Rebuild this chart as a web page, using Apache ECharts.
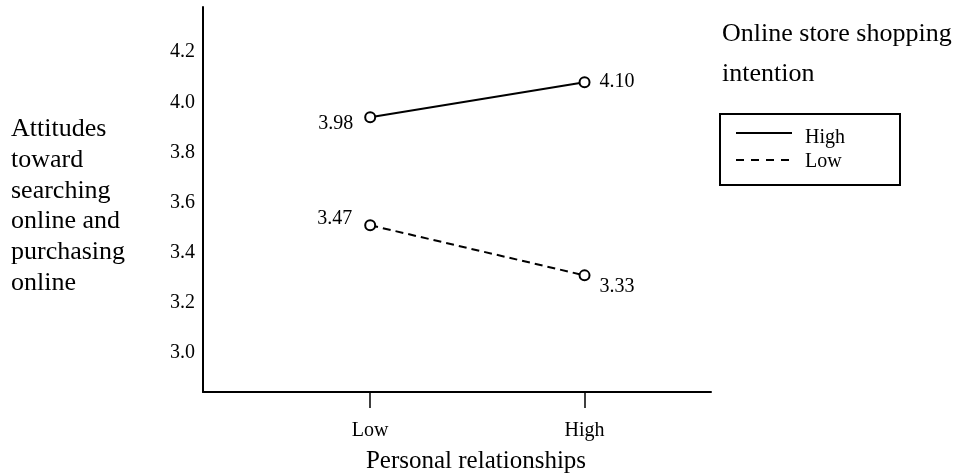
<!DOCTYPE html>
<html>
<head>
<meta charset="utf-8">
<title>Interaction plot</title>
<script src="https://cdn.jsdelivr.net/npm/echarts@6/dist/echarts.min.js"></script>
<style>
  html, body { margin: 0; padding: 0; background: #fff; }
  #chart { width: 961px; height: 475px; }
</style>
</head>
<body>
<div id="chart"></div>
<script>
// x 轴两个水平
const categories = ['Low', 'High'];
// 图例 / 系列名
const seriesNames = ['High', 'Low'];
// 绘制位置
const highValues = [3.94, 4.08];
const lowValues = [3.51, 3.31];
// 标注的数值
const highLabels = ['3.98', '4.10'];
const lowLabels = ['3.47', '3.33'];
// y 轴刻度
const yTicks = [3.0, 3.2, 3.4, 3.6, 3.8, 4.0, 4.2];

const FONT = "'Liberation Serif', 'Times New Roman', serif";

// 每个点的标签摆放
const highLabelPos = [
  { position: 'left', distance: 11, offset: [0, 6] },
  { position: 'right', distance: 9, offset: [0, 0] },
];
const lowLabelPos = [
  { position: 'left', distance: 12, offset: [0, -6] },
  { position: 'right', distance: 9, offset: [0, 11] },
];

function buildData(values, labels, pos) {
  return values.map((v, i) => ({
    value: [i + 1, v],
    label: {
      show: true,
      formatter: labels[i],
      position: pos[i].position,
      distance: pos[i].distance,
      offset: pos[i].offset,
      color: '#000',
      fontFamily: FONT,
      fontSize: 20,
    },
  }));
}

const chart = echarts.init(document.getElementById('chart'));

const options = {
  animation: false,
  backgroundColor: '#fff',
  grid: { left: 203, right: 250, top: 7, bottom: 83, containLabel: false },
  xAxis: {
    type: 'value',
    min: 0.22,
    max: 2.59,
    splitLine: { show: false },
    axisLine: { show: true, lineStyle: { color: '#000', width: 2 } },
    axisTick: {
      show: true,
      customValues: [1, 2],
      length: 16,
      lineStyle: { color: '#000', width: 1.5 },
    },
    axisLabel: {
      customValues: [1, 2],
      formatter: (v) => categories[Math.round(v) - 1] || '',
      margin: 29,
      color: '#000',
      fontFamily: FONT,
      fontSize: 20,
      lineHeight: 20,
    },
  },
  yAxis: {
    type: 'value',
    min: 2.845,
    max: 4.38,
    splitLine: { show: false },
    axisLine: { show: true, lineStyle: { color: '#000', width: 2 } },
    axisTick: { show: false },
    axisLabel: {
      customValues: yTicks,
      formatter: (v) => v.toFixed(1),
      margin: 8,
      color: '#000',
      fontFamily: FONT,
      fontSize: 20,
    },
  },
  series: [
    {
      name: seriesNames[0],
      type: 'line',
      data: buildData(highValues, highLabels, highLabelPos),
      symbol: 'emptyCircle',
      symbolSize: 10,
      itemStyle: { color: '#000', borderWidth: 2 },
      lineStyle: { color: '#000', width: 2, type: 'solid' },
    },
    {
      name: seriesNames[1],
      type: 'line',
      data: buildData(lowValues, lowLabels, lowLabelPos),
      symbol: 'emptyCircle',
      symbolSize: 10,
      itemStyle: { color: '#000', borderWidth: 2 },
      lineStyle: { color: '#000', width: 2, type: [8, 5] },
    },
  ],
  graphic: [
    // y 轴标题
    {
      type: 'text',
      x: 11,
      y: 114,
      style: {
        text: 'Attitudes\ntoward\nsearching\nonline and\npurchasing\nonline',
        fontFamily: FONT,
        fontSize: 26,
        lineHeight: 30.7,
        fill: '#000',
        verticalAlign: 'top',
      },
    },
    // x 轴标题
    {
      type: 'text',
      x: 476,
      y: 461,
      style: {
        text: 'Personal relationships',
        fontFamily: FONT,
        fontSize: 25,
        fill: '#000',
        align: 'center',
        verticalAlign: 'middle',
      },
    },
    // 图例标题
    {
      type: 'text',
      x: 722,
      y: 14,
      style: {
        text: 'Online store shopping\nintention',
        fontFamily: FONT,
        fontSize: 26,
        lineHeight: 40,
        fill: '#000',
        verticalAlign: 'top',
      },
    },
    // 图例框
    {
      type: 'rect',
      shape: { x: 720, y: 114, width: 180, height: 71 },
      style: { fill: '#fff', stroke: '#000', lineWidth: 2 },
    },
    {
      type: 'line',
      shape: { x1: 736, y1: 133, x2: 792, y2: 133 },
      style: { stroke: '#000', lineWidth: 2 },
    },
    {
      type: 'line',
      shape: { x1: 736, y1: 160, x2: 792, y2: 160 },
      style: { stroke: '#000', lineWidth: 2, lineDash: [8, 7] },
    },
    {
      type: 'text',
      x: 805,
      y: 137.6,
      style: {
        text: seriesNames[0],
        fontFamily: FONT,
        fontSize: 20,
        fill: '#000',
        verticalAlign: 'middle',
      },
    },
    {
      type: 'text',
      x: 805,
      y: 161.6,
      style: {
        text: seriesNames[1],
        fontFamily: FONT,
        fontSize: 20,
        fill: '#000',
        verticalAlign: 'middle',
      },
    },
  ],
};

chart.setOption(options);
</script>
</body>
</html>
